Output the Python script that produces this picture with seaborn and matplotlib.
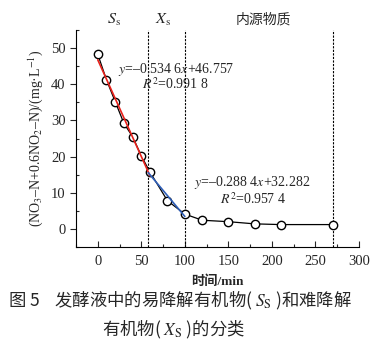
import numpy as np
import pandas as pd
import seaborn as sns
import matplotlib.pyplot as plt
from matplotlib.ticker import MultipleLocator

time_min = [0, 10, 20, 30, 40, 50, 60, 80, 100, 120, 150, 180, 210, 270]
nitrate = [48.3, 41.2, 35.2, 29.2, 25.5, 20.2, 15.7, 7.8, 4.1, 2.4, 2.0, 1.4, 1.2, 1.2]
fit1_x = [0, 60]
fit1_slope, fit1_int = -0.5346, 46.757
fit2_x = [58, 100]
fit2_slope, fit2_int = -0.2884, 32.282
split_lines = [58, 100, 270]
x_ticks = [0, 50, 100, 150, 200, 250, 300]
y_ticks = [0, 10, 20, 30, 40, 50]

sns.set_theme(style="ticks")
plt.rcParams['font.family'] = ['Liberation Serif', 'Noto Sans CJK SC']
plt.rcParams['mathtext.fontset'] = 'stix'

fig = plt.figure(figsize=(3.78, 3.47), dpi=100)
ax = fig.add_axes([76/378, 1-247/347, (359-76)/378, (247-30)/347])

df = pd.DataFrame({"t": time_min, "v": nitrate})
f1 = pd.DataFrame({"t": fit1_x, "v": [fit1_slope*x + fit1_int for x in fit1_x]})
f2 = pd.DataFrame({"t": fit2_x, "v": [fit2_slope*x + fit2_int for x in fit2_x]})

sns.lineplot(data=df, x="t", y="v", ax=ax, color="black", lw=0.9, marker="o",
             markersize=6, markerfacecolor="white", markeredgecolor="black",
             markeredgewidth=1.0, zorder=3)
sns.lineplot(data=f1, x="t", y="v", ax=ax, color="#e8201a", lw=1.2, zorder=4)
sns.lineplot(data=f2, x="t", y="v", ax=ax, color="#2f5fb8", lw=1.2, zorder=4)

for xv in split_lines:
    ax.axvline(xv, color="black", ls=(0, (2, 1.2)), lw=0.8, zorder=1)

ax.set_xlim(-25, 300)
ax.set_ylim(-5, 55)
ax.set_xticks(x_ticks)
ax.set_yticks(y_ticks)
ax.xaxis.set_minor_locator(MultipleLocator(25))
ax.yaxis.set_minor_locator(MultipleLocator(5))
ax.tick_params(axis="x", which="major", direction="in", length=4, width=0.8, labelsize=10.5, pad=6)
ax.tick_params(axis="x", which="minor", direction="in", length=2.5, width=0.8)
ax.tick_params(axis="y", which="major", direction="out", length=4, width=0.8, labelsize=10.5)
ax.tick_params(axis="y", which="minor", direction="in", length=2.5, width=0.8)
for s in ["top", "right"]:
    ax.spines[s].set_visible(False)
for s in ["left", "bottom"]:
    ax.spines[s].set_linewidth(0.8)
    ax.spines[s].set_color("black")

ax.set_xlabel("时间/min", fontsize=9.5, fontweight="bold", labelpad=5)
ax.set_ylabel(r"(NO$_3$–N+0.6NO$_2$–N)/(mg·L$^{-1}$)", fontsize=10, labelpad=4)

ax.text(23, 43.2, r"$y$=–0.534 6$x$+46.757", fontsize=10)
ax.text(51, 38.6, r"$R^2$=0.991 8", fontsize=10)
ax.text(110, 12.0, r"$y$=–0.288 4$x$+32.282", fontsize=10)
ax.text(140, 7.0, r"$R^2$=0.957 4", fontsize=10)

fig.text(114/378, 1-20/347, r"$S_{\rm s}$", fontsize=11.5, ha="center", va="center")
fig.text(163/378, 1-20/347, r"$X_{\rm s}$", fontsize=11.5, ha="center", va="center")
fig.text(263/378, 1-20/347, "内源物质", fontsize=10, ha="center", va="center",
         family="Noto Sans CJK SC")

fig.text(8/378, 1-301/347, r"图 5    发酵液中的易降解有机物( $S_{\rm S}$ )和难降解",
         fontsize=12.5, ha="left", va="center", family="Noto Sans CJK SC")
fig.text(102/378, 1-330/347, r"有机物( $X_{\rm S}$ )的分类",
         fontsize=12.5, ha="left", va="center", family="Noto Sans CJK SC")

fig.savefig("out.png", dpi=100)
